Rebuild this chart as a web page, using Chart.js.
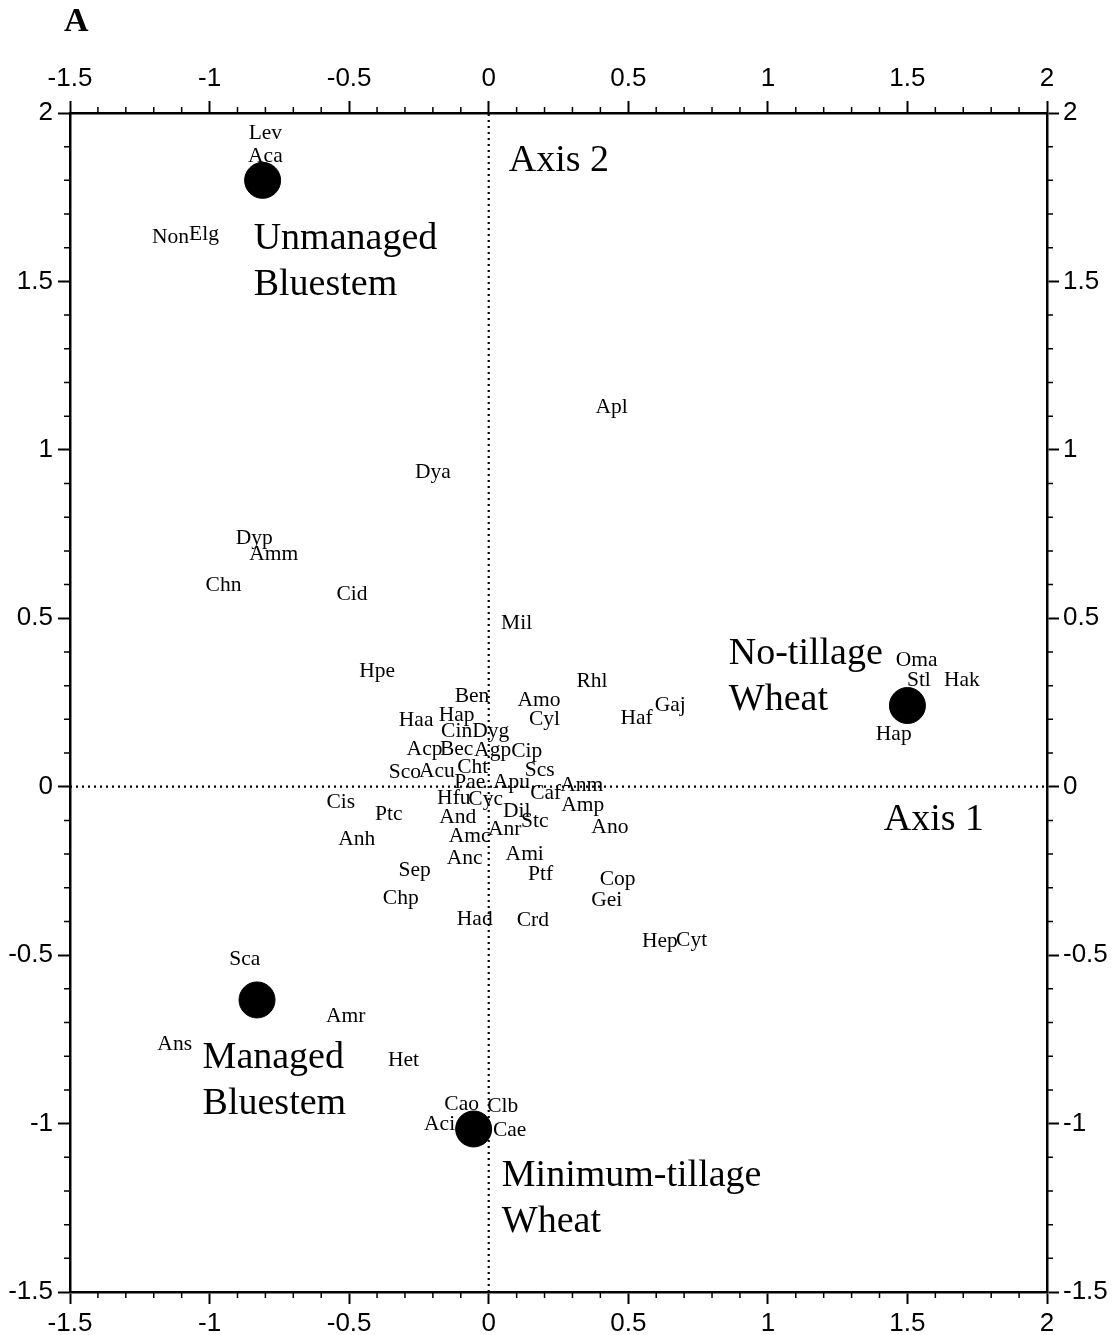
<!DOCTYPE html>
<html>
<head>
<meta charset="utf-8">
<script src="https://cdn.jsdelivr.net/npm/chart.js@4.4.1/dist/chart.umd.min.js"></script>
<style>
  html, body { margin: 0; padding: 0; background: #fff; }
  #wrap { width: 1113px; height: 1335px; }
</style>
</head>
<body>
<div id="wrap"><canvas id="ordination"></canvas></div>
<script>
/* ---------- data ---------- */
const speciesCodes = ['Lev', 'Aca', 'Non', 'Elg', 'Apl', 'Dya', 'Dyp', 'Amm', 'Chn', 'Cid', 'Mil', 'Hpe', 'Rhl',
  'Ben', 'Amo', 'Gaj', 'Haf', 'Cyl', 'Hap', 'Haa', 'Cin', 'Dyg', 'Acp', 'Bec', 'Agp', 'Cip', 'Sco', 'Acu', 'Cht',
  'Scs', 'Pae', 'Apu', 'Anm', 'Caf', 'Hfu', 'Cyc', 'Cis', 'Ptc', 'Amp', 'Dil', 'Stc', 'And', 'Ano', 'Anr', 'Amc',
  'Anh', 'Ami', 'Anc', 'Sep', 'Ptf', 'Cop', 'Chp', 'Gei', 'Had', 'Crd', 'Hep', 'Cyt', 'Sca', 'Amr', 'Ans', 'Het',
  'Cao', 'Clb', 'Aci', 'Cae', 'Oma', 'Stl', 'Hak', 'Hap'];
const speciesX = [-0.80, -0.80, -1.14, -1.02, 0.44, -0.20, -0.84, -0.77, -0.95, -0.49, 0.10, -0.40, 0.37,
  -0.06, 0.18, 0.65, 0.53, 0.20, -0.115, -0.26, -0.115, 0.007, -0.23, -0.115, 0.014, 0.136, -0.30, -0.186, -0.057,
  0.183, -0.068, 0.082, 0.333, 0.204, -0.125, -0.011, -0.53, -0.358, 0.337, 0.10, 0.165, -0.111, 0.434, 0.057, -0.068,
  -0.473, 0.129, -0.086, -0.265, 0.186, 0.462, -0.315, 0.423, -0.05, 0.158, 0.613, 0.727, -0.874, -0.512, -1.125, -0.305,
  -0.097, 0.050, -0.176, 0.075, 1.533, 1.541, 1.695, 1.451];
const speciesY = [1.94, 1.87, 1.63, 1.64, 1.126, 0.933, 0.737, 0.689, 0.597, 0.570, 0.484, 0.342, 0.312,
  0.267, 0.255, 0.241, 0.202, 0.199, 0.211, 0.196, 0.163, 0.163, 0.110, 0.110, 0.107, 0.104, 0.042, 0.045, 0.056,
  0.048, 0.012, 0.012, 0.003, -0.021, -0.036, -0.039, -0.045, -0.083, -0.056, -0.074, -0.104, -0.092, -0.122, -0.128, -0.146,
  -0.157, -0.202, -0.214, -0.247, -0.261, -0.276, -0.330, -0.336, -0.395, -0.398, -0.458, -0.455, -0.514, -0.683, -0.766, -0.811,
  -0.942, -0.948, -1.001, -1.019, 0.374, 0.315, 0.315, 0.154];

const siteNames = [['Unmanaged', 'Bluestem'], ['Managed', 'Bluestem'], ['Minimum-tillage', 'Wheat'], ['No-tillage', 'Wheat']];
const siteX = [-0.81, -0.83, -0.054, 1.50];
const siteY = [1.80, -0.633, -1.016, 0.241];
// where each site caption starts (left edge, first line), in axis units
const siteLabelX = [-0.842, -1.025, 0.047, 0.86];
const siteLabelY = [1.625, -0.805, -1.156, 0.395];

const axisNames = ['Axis 1', 'Axis 2'];
const axisNameX = [1.415, 0.072];
const axisNameY = [-0.098, 1.857];

const xRange = [-1.5, 2];
const yRange = [-1.5, 2];

/* ---------- drawing ---------- */
const serif = "'Liberation Serif', 'DejaVu Serif', serif";
const sans = "'Liberation Sans', Arial, sans-serif";

const textLabels = {
  id: 'textLabels',
  afterDatasetsDraw(chart) {
    const { ctx, scales: { x, y } } = chart;
    ctx.save();
    ctx.fillStyle = '#000';
    ctx.textBaseline = 'middle';

    ctx.font = `21.5px ${serif}`;
    ctx.textAlign = 'center';
    speciesCodes.forEach((code, i) => {
      ctx.fillText(code, x.getPixelForValue(speciesX[i]), y.getPixelForValue(speciesY[i]));
    });

    ctx.font = `38px ${serif}`;
    ctx.textAlign = 'left';
    siteNames.forEach((lines, i) => {
      const px = x.getPixelForValue(siteLabelX[i]);
      const py = y.getPixelForValue(siteLabelY[i]);
      lines.forEach((t, k) => ctx.fillText(t, px, py + k * 46));
    });
    axisNames.forEach((t, i) => {
      ctx.fillText(t, x.getPixelForValue(axisNameX[i]), y.getPixelForValue(axisNameY[i]));
    });

    // panel letter
    ctx.font = `bold 34px ${serif}`;
    ctx.textAlign = 'left';
    ctx.fillText('A', 64, 22);
    ctx.restore();
  }
};

// short ticks every 0.1 on all four sides
const minorTicks = {
  id: 'minorTicks',
  afterDraw(chart) {
    const { ctx, chartArea: a, scales } = chart;
    ctx.save();
    ctx.strokeStyle = '#000';
    ctx.lineWidth = 1.5;
    ctx.beginPath();
    for (let k = -15; k <= 20; k++) {
      if (k % 5 === 0) continue;
      const v = k / 10;
      const px = scales.x.getPixelForValue(v);
      ctx.moveTo(px, a.bottom); ctx.lineTo(px, a.bottom + 6);
      ctx.moveTo(px, a.top); ctx.lineTo(px, a.top - 6);
      const py = scales.y.getPixelForValue(v);
      ctx.moveTo(a.left, py); ctx.lineTo(a.left - 6, py);
      ctx.moveTo(a.right, py); ctx.lineTo(a.right + 6, py);
    }
    ctx.stroke();
    ctx.restore();
  }
};

const fmt = (v) => String(Math.round(v * 10) / 10);

function axis(position, size, pad) {
  const horiz = position === 'top' || position === 'bottom';
  return {
    type: 'linear', position,
    min: horiz ? xRange[0] : yRange[0],
    max: horiz ? xRange[1] : yRange[1],
    grid: { drawOnChartArea: false, drawTicks: true, tickLength: 12, tickWidth: 2, tickColor: '#000' },
    border: { display: true, color: '#000', width: 2.5 },
    ticks: { stepSize: 0.5, color: '#000', padding: pad, font: { family: sans, size: 26 }, callback: fmt, maxRotation: 0, autoSkip: false },
    afterFit(s) {
      if (horiz) s.height = size; else s.width = size;
    },
  };
}

const dotted = { borderColor: '#000', borderWidth: 2.2, borderDash: [2, 4], pointRadius: 0, fill: false, tension: 0 };

new Chart(document.getElementById('ordination'), {
  type: 'scatter',
  data: {
    datasets: [
      { type: 'line', data: [{ x: 0, y: yRange[0] }, { x: 0, y: yRange[1] }], ...dotted },
      { type: 'line', data: [{ x: xRange[0], y: 0 }, { x: xRange[1], y: 0 }], ...dotted },
      {
        data: siteX.map((v, i) => ({ x: v, y: siteY[i] })),
        pointRadius: 18, backgroundColor: '#000', borderColor: '#000', pointHoverRadius: 18,
      },
    ],
  },
  options: {
    responsive: true, maintainAspectRatio: false, animation: false,
    layout: { padding: 0 },
    plugins: { legend: { display: false }, tooltip: { enabled: false } },
    scales: {
      x: axis('bottom', 43, 4),
      x2: { ...axis('top', 113, 7), axis: 'x' },
      y: axis('left', 70, 5),
      y2: { ...axis('right', 66, 4), axis: 'y' },
    },
  },
  plugins: [textLabels, minorTicks],
});
</script>
</body>
</html>
